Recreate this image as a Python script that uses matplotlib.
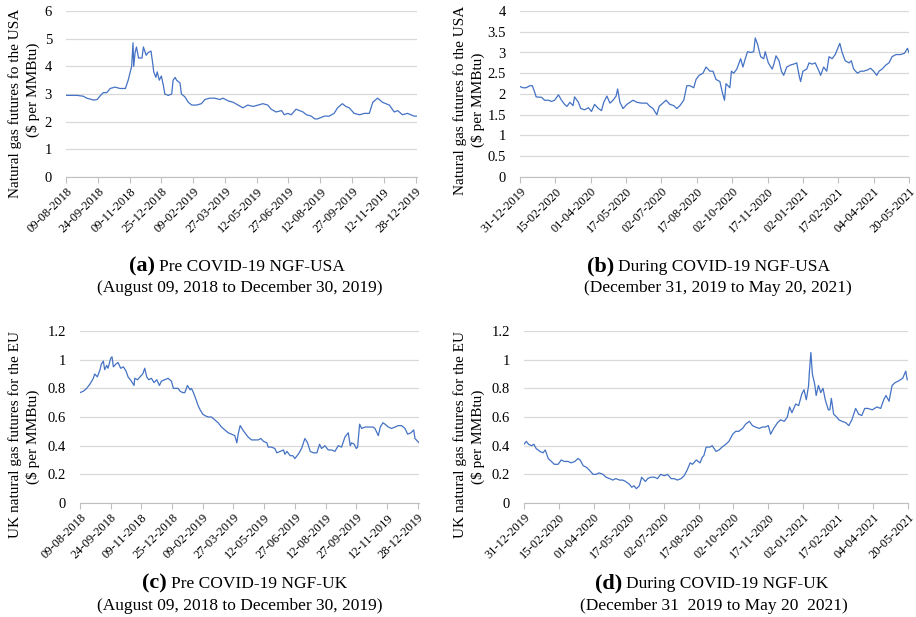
import numpy as np
import pandas as pd
import matplotlib
matplotlib.use("Agg")
import matplotlib.pyplot as plt
from matplotlib.ticker import FuncFormatter, MultipleLocator

plt.rcParams['font.family'] = ['Liberation Serif', 'DejaVu Serif']

# ---- data: day offsets from first date, value in $ per MMBtu ----
start_pre = "2018-08-09"
start_dur = "2019-12-31"

pre_usa_day = [0, 16, 25, 30, 40, 45, 50, 54, 59, 64, 71, 78, 86, 90, 93, 95, 97, 98, 100, 102,
               105, 110, 112, 116, 119, 123, 125, 127, 130, 132, 135, 138, 141, 143, 148, 153,
               155, 158, 160, 165, 167, 172, 177, 182, 189, 196, 201, 208, 215, 223, 227, 235,
               242, 249, 256, 263, 271, 278, 285, 292, 297, 304, 312, 316, 321, 326, 333, 338,
               343, 348, 355, 360, 364, 369, 374, 381, 388, 393, 400, 405, 410, 417, 425, 432,
               439, 444, 451, 458, 463, 468, 475, 480, 487, 494, 499, 504, 507]
pre_usa_val = [2.95, 2.95, 2.92, 2.85, 2.78, 2.8, 2.95, 3.05, 3.05, 3.2, 3.25, 3.2, 3.2, 3.5, 3.8,
               4.0, 4.85, 4.0, 4.5, 4.7, 4.3, 4.3, 4.7, 4.4, 4.5, 4.55, 4.2, 3.8, 3.6, 3.8, 3.5,
               3.65, 3.3, 3.0, 2.95, 3.0, 3.5, 3.6, 3.5, 3.4, 3.0, 2.9, 2.7, 2.6, 2.6, 2.65, 2.8,
               2.85, 2.85, 2.8, 2.85, 2.75, 2.7, 2.6, 2.5, 2.6, 2.55, 2.6, 2.65, 2.6, 2.45, 2.35,
               2.4, 2.25, 2.3, 2.25, 2.45, 2.4, 2.35, 2.25, 2.2, 2.1, 2.1, 2.15, 2.2, 2.2, 2.3,
               2.5, 2.65, 2.55, 2.5, 2.3, 2.25, 2.3, 2.3, 2.7, 2.85, 2.7, 2.65, 2.6, 2.35, 2.4,
               2.25, 2.3, 2.25, 2.2, 2.2]

dur_usa_day = [0, 4, 8, 13, 16, 19, 21, 28, 32, 37, 41, 45, 50, 54, 58, 61, 65, 69, 71, 76, 79,
               84, 89, 93, 97, 102, 106, 109, 113, 117, 121, 125, 127, 130, 134, 139, 143, 147,
               152, 158, 165, 169, 173, 178, 181, 187, 190, 195, 200, 204, 208, 213, 217, 221,
               226, 229, 233, 238, 242, 247, 251, 255, 260, 263, 266, 268, 273, 275, 278, 282,
               287, 290, 293, 296, 300, 304, 306, 309, 313, 317, 319, 323, 328, 330, 333, 337,
               340, 343, 347, 352, 356, 360, 363, 365, 368, 373, 376, 380, 384, 389, 391, 395,
               399, 402, 406, 410, 416, 419, 423, 428, 431, 434, 439, 443, 447, 452, 456, 460,
               464, 467, 471, 476, 480, 484, 489, 495, 500, 504, 507]
dur_usa_val = [2.18, 2.15, 2.15, 2.2, 2.2, 2.05, 1.93, 1.92, 1.85, 1.85, 1.82, 1.85, 1.98, 1.85,
               1.75, 1.7, 1.8, 1.72, 1.93, 1.8, 1.65, 1.62, 1.67, 1.58, 1.75, 1.65, 1.6, 1.8,
               1.95, 1.78, 1.85, 1.95, 2.12, 1.8, 1.65, 1.75, 1.8, 1.85, 1.8, 1.78, 1.78, 1.7,
               1.65, 1.5, 1.7, 1.8, 1.85, 1.75, 1.72, 1.65, 1.72, 1.85, 2.2, 2.2, 2.15, 2.35,
               2.45, 2.5, 2.65, 2.55, 2.55, 2.35, 2.3, 2.05, 1.85, 2.25, 2.15, 2.55, 2.5, 2.6,
               2.85, 2.65, 2.85, 3.02, 3.0, 3.02, 3.35, 3.2, 2.9, 2.85, 3.02, 2.75, 2.6, 2.7,
               2.92, 2.8, 2.55, 2.45, 2.65, 2.7, 2.72, 2.75, 2.45, 2.3, 2.55, 2.6, 2.75, 2.72,
               2.75, 2.55, 2.45, 2.65, 2.55, 2.9, 2.85, 2.95, 3.22, 3.0, 2.8, 2.75, 2.8, 2.6,
               2.5, 2.55, 2.55, 2.58, 2.62, 2.55, 2.45, 2.55, 2.6, 2.7, 2.75, 2.9, 2.95, 2.95,
               2.98, 3.1, 2.95]

pre_uk_day = [0, 5, 10, 15, 20, 22, 26, 30, 32, 35, 37, 40, 42, 46, 48, 50, 54, 57, 61, 65, 69,
              72, 77, 81, 82, 86, 90, 94, 97, 100, 103, 107, 111, 115, 119, 122, 127, 132, 137,
              140, 144, 147, 150, 154, 157, 161, 165, 167, 170, 174, 177, 180, 184, 187, 192,
              197, 202, 207, 212, 217, 222, 227, 232, 235, 237, 240, 244, 247, 252, 257, 262,
              267, 271, 275, 280, 282, 287, 292, 295, 300, 305, 307, 310, 315, 319, 322, 327,
              332, 337, 341, 345, 350, 355, 359, 362, 367, 372, 377, 382, 387, 392, 397, 402,
              405, 407, 411, 414, 416, 419, 422, 427, 432, 439, 442, 447, 450, 454, 457, 462,
              467, 472, 477, 482, 487, 491, 496, 500, 502, 506, 508]
pre_uk_val = [0.77, 0.78, 0.8, 0.83, 0.87, 0.9, 0.88, 0.93, 0.97, 0.99, 0.93, 0.96, 0.94, 1.01,
              1.02, 0.95, 0.97, 0.98, 0.94, 0.95, 0.92, 0.88, 0.85, 0.82, 0.87, 0.86, 0.88, 0.9,
              0.94, 0.88, 0.86, 0.87, 0.84, 0.86, 0.82, 0.85, 0.86, 0.87, 0.85, 0.8, 0.8, 0.8,
              0.78, 0.77, 0.77, 0.82, 0.79, 0.8, 0.77, 0.72, 0.68, 0.65, 0.62, 0.61, 0.6, 0.6,
              0.58, 0.56, 0.53, 0.51, 0.49, 0.48, 0.47, 0.42, 0.48, 0.54, 0.51, 0.49, 0.46, 0.44,
              0.44, 0.44, 0.45, 0.43, 0.42, 0.39, 0.39, 0.38, 0.35, 0.36, 0.37, 0.34, 0.36, 0.33,
              0.33, 0.31, 0.34, 0.38, 0.45, 0.42, 0.36, 0.35, 0.35, 0.41, 0.38, 0.4, 0.37, 0.37,
              0.36, 0.4, 0.39, 0.46, 0.49, 0.4, 0.42, 0.41, 0.38, 0.39, 0.55, 0.52, 0.53, 0.53,
              0.53, 0.52, 0.47, 0.53, 0.56, 0.55, 0.53, 0.52, 0.53, 0.54, 0.54, 0.52, 0.48, 0.49,
              0.51, 0.45, 0.43, 0.42]

dur_uk_day = [0, 3, 6, 10, 13, 16, 21, 25, 28, 32, 36, 40, 45, 49, 53, 58, 62, 67, 71, 74, 78,
              82, 86, 91, 95, 99, 104, 108, 113, 117, 121, 126, 130, 134, 139, 142, 145, 148,
              152, 155, 160, 163, 167, 172, 176, 180, 185, 189, 194, 198, 202, 207, 211, 215,
              219, 222, 227, 232, 235, 237, 240, 245, 248, 253, 257, 261, 266, 270, 275, 279,
              283, 288, 292, 297, 301, 305, 310, 314, 318, 322, 325, 329, 334, 338, 343, 347,
              350, 353, 358, 362, 366, 369, 372, 375, 376, 378, 380, 383, 385, 388, 391, 394,
              397, 401, 403, 405, 408, 412, 415, 419, 424, 428, 432, 437, 441, 445, 449, 453,
              459, 465, 470, 474, 477, 481, 485, 489, 493, 496, 499, 503, 505]
dur_uk_val = [0.41, 0.43, 0.41, 0.4, 0.41, 0.38, 0.36, 0.35, 0.37, 0.31, 0.29, 0.27, 0.27, 0.3,
              0.29, 0.29, 0.28, 0.29, 0.31, 0.3, 0.26, 0.25, 0.23, 0.2, 0.2, 0.21, 0.2, 0.18,
              0.17, 0.16, 0.17, 0.16, 0.16, 0.15, 0.13, 0.11, 0.12, 0.1, 0.12, 0.18, 0.15, 0.17,
              0.18, 0.18, 0.17, 0.2, 0.19, 0.2, 0.17, 0.17, 0.16, 0.17, 0.19, 0.23, 0.28, 0.27,
              0.3, 0.28, 0.32, 0.33, 0.39, 0.39, 0.4, 0.36, 0.37, 0.39, 0.41, 0.43, 0.48, 0.5,
              0.5, 0.52, 0.55, 0.57, 0.54, 0.53, 0.52, 0.53, 0.53, 0.54, 0.48, 0.52, 0.56, 0.58,
              0.57, 0.6, 0.67, 0.63, 0.69, 0.68, 0.76, 0.79, 0.72, 0.82, 0.91, 1.05, 0.9, 0.83,
              0.75, 0.82, 0.77, 0.8, 0.72, 0.65, 0.65, 0.73, 0.62, 0.6, 0.58, 0.57, 0.56, 0.54,
              0.58, 0.66, 0.62, 0.61, 0.66, 0.66, 0.65, 0.67, 0.66, 0.72, 0.75, 0.71, 0.82, 0.84,
              0.85, 0.86, 0.87, 0.92, 0.86]

pre_ticks = ["09-08-2018", "24-09-2018", "09-11-2018", "25-12-2018", "09-02-2019", "27-03-2019",
             "12-05-2019", "27-06-2019", "12-08-2019", "27-09-2019", "12-11-2019", "28-12-2019"]
dur_ticks = ["31-12-2019", "15-02-2020", "01-04-2020", "17-05-2020", "02-07-2020", "17-08-2020",
             "02-10-2020", "17-11-2020", "02-01-2021", "17-02-2021", "04-04-2021", "20-05-2021"]

end_pre = "2019-12-30"
end_dur = "2021-05-20"

ylabel_usa = "Natural gas futures fo the USA"
ylabel_uk = "UK natural gas futures for the EU"
ylabel_unit = "($ per MMBtu)"

LINE = "#4472C4"
GRID = "#d9d9d9"
AXIS = "#bfbfbf"

fig = plt.figure(figsize=(9.16, 6.17), dpi=100)
W, H = 916, 617


def add_ax(l, t, r, b):
    return fig.add_axes([l / W, 1 - b / H, (r - l) / W, (b - t) / H])


def days_of(labels, start):
    d = pd.to_datetime(labels, format="%d-%m-%Y") - pd.Timestamp(start)
    return d.days.values


def draw(ax, xd, yv, start, end, ticks, ymax, ystep):
    ax.plot(xd, yv, color=LINE, lw=0.9)
    ax.set_xlim(0, (pd.Timestamp(end) - pd.Timestamp(start)).days)
    ax.set_ylim(0, ymax)
    ax.yaxis.set_major_locator(MultipleLocator(ystep))
    ax.yaxis.set_major_formatter(FuncFormatter(lambda v, p: "%g" % round(v, 2)))
    ax.set_xticks(days_of(ticks, start))
    ax.set_xticklabels(ticks, rotation=45, ha="right", rotation_mode="anchor", fontsize=9)
    ax.grid(axis="y", color=GRID, lw=0.9)
    ax.set_axisbelow(True)
    for s in ["top", "right", "left"]:
        ax.spines[s].set_visible(False)
    ax.spines["bottom"].set_color(AXIS)
    ax.tick_params(axis="x", length=4, color=AXIS, pad=2)
    ax.tick_params(axis="y", length=0, labelsize=10.5, pad=10)


ax_a = add_ax(66, 11, 417, 177)
draw(ax_a, pre_usa_day, pre_usa_val, start_pre, end_pre, pre_ticks, 6, 1)
ax_b = add_ax(520, 11, 909, 177)
draw(ax_b, dur_usa_day, dur_usa_val, start_dur, end_dur, dur_ticks, 4, 0.5)
ax_c = add_ax(80, 331, 419, 503)
draw(ax_c, pre_uk_day, pre_uk_val, start_pre, end_pre, pre_ticks, 1.2, 0.2)
ax_d = add_ax(524, 331, 908, 503)
draw(ax_d, dur_uk_day, dur_uk_val, start_dur, end_dur, dur_ticks, 1.2, 0.2)

# y labels (two lines): x of line 1, y centre of line 1, x of line 2, y centre of line 2
ylabels = [(15, 103, 33, 90, ylabel_usa), (460, 100, 478, 100, ylabel_usa),
           (15, 435, 33, 437, ylabel_uk), (460, 435, 478, 437, ylabel_uk)]
for x1, y1, x2, y2, txt in ylabels:
    fig.text(x1 / W, 1 - y1 / H, txt, rotation=90, ha="center", va="center", fontsize=11)
    fig.text(x2 / W, 1 - y2 / H, ylabel_unit, rotation=90, ha="center", va="center", fontsize=11)

# captions
captions = [(155, 271, 292, 240, "(a)", "Pre COVID-19 NGF-USA", "(August 09, 2018 to December 30, 2019)"),
            (614, 271, 292, 718, "(b)", "During COVID-19 NGF-USA", "(December 31, 2019 to May 20, 2021)"),
            (167, 588, 610, 240, "(c)", "Pre COVID-19 NGF-UK", "(August 09, 2018 to December 30, 2019)"),
            (622, 588, 610, 714, "(d)", "During COVID-19 NGF-UK", "(December 31  2019 to May 20  2021)")]
for x0, y1, y2, xc, tag, title, period in captions:
    fig.text(x0 / W, 1 - y1 / H, tag, ha="right", va="baseline", fontsize=16, fontweight="bold")
    fig.text((x0 + 4) / W, 1 - y1 / H, title, ha="left", va="baseline", fontsize=12.5)
    fig.text(xc / W, 1 - y2 / H, period, ha="center", va="baseline", fontsize=12.5)

fig.savefig("out.png", dpi=100)
